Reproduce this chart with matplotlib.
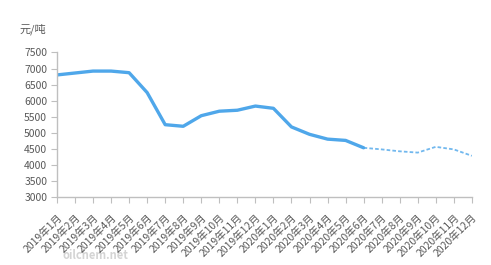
import matplotlib
matplotlib.use("Agg")
import matplotlib.pyplot as plt

plt.rcParams['font.family'] = ['Noto Sans CJK SC', 'DejaVu Sans']

# 月份标签
months = ["2019年%d月" % m for m in range(1, 13)] + ["2020年%d月" % m for m in range(1, 13)]
# 实际价格 (2019年1月 - 2020年6月)
actual = [6800, 6860, 6920, 6920, 6870, 6250, 5250, 5200, 5530, 5670, 5700, 5830,
          5760, 5180, 4950, 4800, 4760, 4530]
# 预测价格 (2020年6月 - 2020年12月)
forecast = [4530, 4480, 4420, 4380, 4560, 4480, 4280]
y_ticks = list(range(3000, 7501, 500))

gray = "#595959"
blue = "#4fa7ea"

fig = plt.figure(figsize=(4.91, 2.65), dpi=100)
ax = fig.add_axes([0.116, 0.257, 0.845, 0.545])

x_actual = list(range(len(actual)))
x_fore = list(range(len(actual) - 1, len(actual) - 1 + len(forecast)))
ax.plot(x_actual, actual, color=blue, lw=2.4, solid_capstyle="round")
ax.plot(x_fore, forecast, color=blue, lw=1.3, ls=(0, (2, 1.2)), alpha=0.8)

ax.set_xlim(0, len(months) - 1)
ax.set_ylim(3000, 7500)
ax.set_yticks(y_ticks)
ax.set_xticks(range(len(months)))
ax.set_xticklabels(months, rotation=45, ha="right", rotation_mode="anchor")

for s in ["top", "right"]:
    ax.spines[s].set_visible(False)
for s in ["left", "bottom"]:
    ax.spines[s].set_color("#bfbfbf")
    ax.spines[s].set_linewidth(1.0)
ax.tick_params(axis="y", colors="#bfbfbf", labelcolor=gray, labelsize=7.5, length=4, pad=3)
ax.tick_params(axis="x", colors="#bfbfbf", labelcolor=gray, labelsize=7.5, length=4, pad=7)

fig.text(0.04, 0.89, "元/吨", color=gray, fontsize=8, ha="left", va="center")
fig.text(0.195, 0.035, "oilchem.net", color="#d4d4d4", fontsize=8, fontweight="bold",
         ha="center", va="center", zorder=-1)

fig.savefig("out.png", dpi=100)
